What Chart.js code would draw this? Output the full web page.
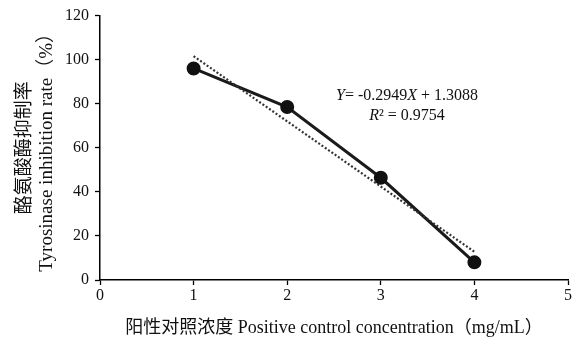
<!DOCTYPE html>
<html>
<head>
<meta charset="utf-8">
<script src="https://cdn.jsdelivr.net/npm/chart.js@4"></script>
<style>
  html, body { margin: 0; padding: 0; background: #fff; }
  #wrap { width: 583px; height: 351px; }
</style>
</head>
<body>
<div id="wrap"><canvas id="myChart" width="583" height="351"></canvas></div>
<script>
// concentration (mg/mL) and inhibition rate (%)
var concX = [1, 2, 3, 4];
var inhibitionY = [96, 78.5, 46.4, 8];
// linear trend line end points
var trendX = [1, 4];
var trendY = [101.6, 12.8];
var xTicks = [0, 1, 2, 3, 4, 5];
var yTicks = [0, 20, 40, 60, 80, 100, 120];
// where the equation text sits, in data units
var eqPos = { x: 3.28, y: 83.5, y2: 74.6 };

var serif = '"Liberation Serif", "Noto Sans CJK SC", serif';

function toPoints(xs, ys) {
  return xs.map(function (x, i) { return { x: x, y: ys[i] }; });
}

// draws a run of [text, italic] pieces centred at cx
function drawRuns(ctx, runs, cx, cy) {
  var total = 0;
  runs.forEach(function (r) {
    ctx.font = (r[1] ? 'italic ' : '') + '16px ' + serif;
    total += ctx.measureText(r[0]).width;
  });
  var x = cx - total / 2;
  runs.forEach(function (r) {
    ctx.font = (r[1] ? 'italic ' : '') + '16px ' + serif;
    ctx.fillText(r[0], x, cy);
    x += ctx.measureText(r[0]).width;
  });
}

var equationPlugin = {
  id: 'equation',
  afterDatasetsDraw: function (chart) {
    var ctx = chart.ctx;
    var xs = chart.scales.x, ys = chart.scales.y;
    var cx = xs.getPixelForValue(eqPos.x);
    ctx.save();
    ctx.fillStyle = '#111';
    ctx.textBaseline = 'middle';
    ctx.textAlign = 'left';
    drawRuns(ctx, [['Y', true], ['= -0.2949', false], ['X', true], [' + 1.3088', false]], cx, ys.getPixelForValue(eqPos.y));
    drawRuns(ctx, [['R', true], ['² = 0.9754', false]], cx, ys.getPixelForValue(eqPos.y2));
    ctx.restore();
  }
};

function init() {
  var ctx = document.getElementById('myChart').getContext('2d');
  var chart = new Chart(ctx, {
    type: 'scatter',
    data: {
      datasets: [
        {
          label: 'trend',
          data: toPoints(trendX, trendY),
          showLine: true,
          borderColor: '#333',
          borderWidth: 2.2,
          borderDash: [2, 2],
          pointRadius: 0,
          fill: false
        },
        {
          label: 'inhibition',
          data: toPoints(concX, inhibitionY),
          showLine: true,
          borderColor: '#1a1a1a',
          backgroundColor: '#1a1a1a',
          borderWidth: 3,
          pointRadius: 5.5,
          pointBackgroundColor: '#111',
          pointBorderColor: '#111',
          fill: false
        }
      ]
    },
    options: {
      responsive: false,
      animation: false,
      layout: { padding: { top: 11, right: 15, left: 0, bottom: 0 } },
      plugins: {
        legend: { display: false },
        tooltip: { enabled: false }
      },
      scales: {
        x: {
          type: 'linear',
          min: 0,
          max: 5,
          afterBuildTicks: function (s) { s.ticks = xTicks.map(function (v) { return { value: v }; }); },
          grid: { display: true, drawOnChartArea: false, drawTicks: true, tickLength: 5, color: '#000', tickWidth: 1.3 },
          border: { display: true, color: '#000', width: 1.5 },
          ticks: { color: '#111', font: { family: serif, size: 16 }, padding: 1 },
          title: {
            display: true,
            text: '阳性对照浓度 Positive control concentration（mg/mL）',
            color: '#111',
            font: { family: serif, size: 18 },
            padding: { top: 2, bottom: 12 }
          },
          afterFit: function (s) { s.height = 71; }
        },
        y: {
          min: 0,
          max: 120,
          afterBuildTicks: function (s) { s.ticks = yTicks.map(function (v) { return { value: v }; }); },
          grid: { display: true, drawOnChartArea: false, drawTicks: true, tickLength: 5, color: '#000', tickWidth: 1.3 },
          border: { display: true, color: '#000', width: 1.5 },
          ticks: { color: '#111', font: { family: serif, size: 16 }, padding: 6 },
          title: {
            display: true,
            text: ['酪氨酸酶抑制率', 'Tyrosinase inhibition rate（%）'],
            color: '#111',
            font: { family: serif, size: 19, lineHeight: 1.15 },
            padding: { top: 14, bottom: 0 }
          },
          afterFit: function (s) { s.width = 100; }
        }
      }
    },
    plugins: [equationPlugin]
  });
}

init();
</script>
</body>
</html>
